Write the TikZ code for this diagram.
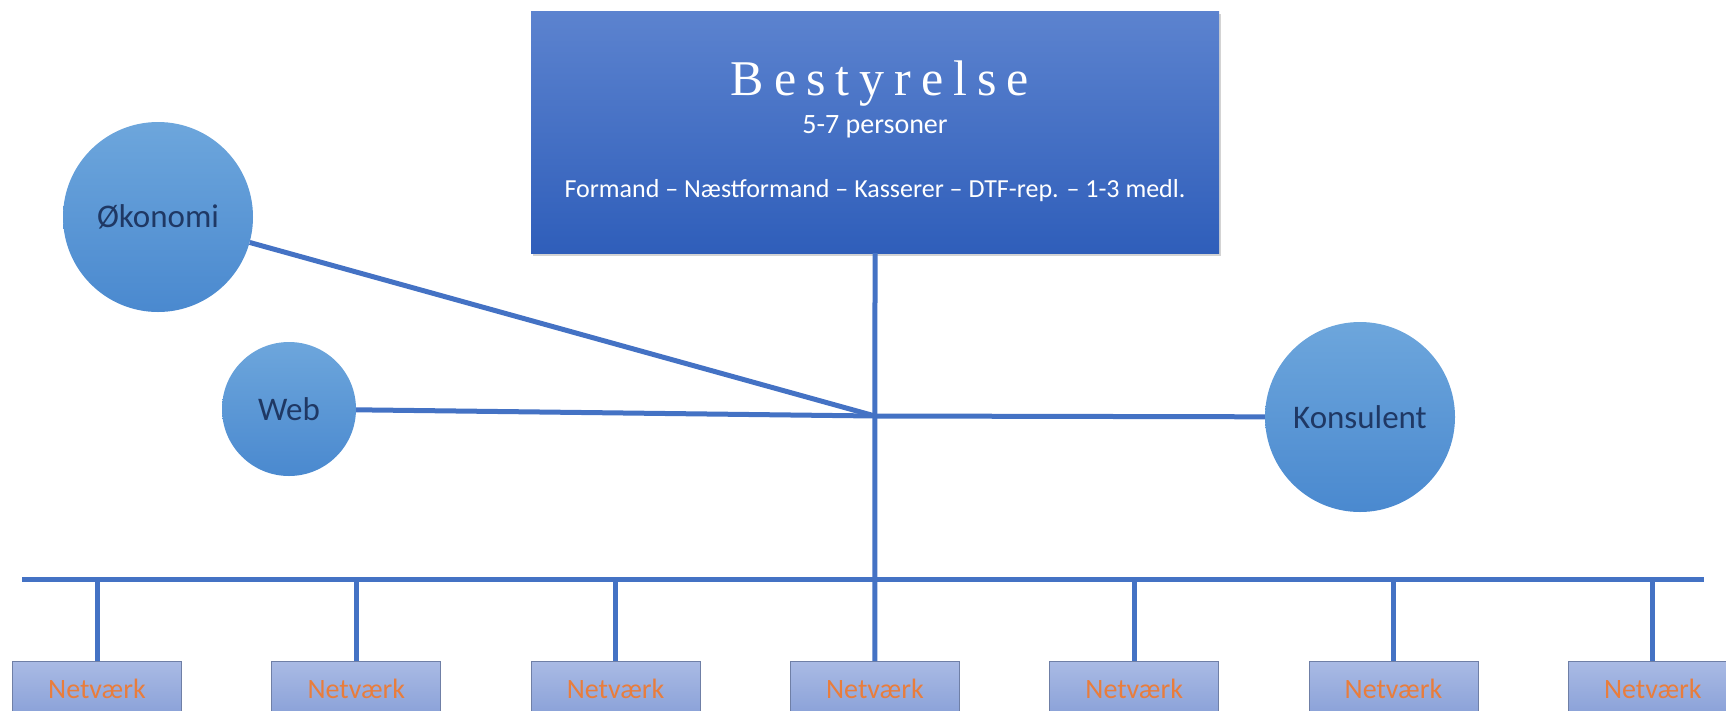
\documentclass[tikz,border=0pt]{standalone}
\usepackage{fontspec}
\setmainfont{Carlito}
\newfontfamily\titlefont[LetterSpace=20]{Liberation Serif}
\usepackage{xcolor}
\usetikzlibrary{shadows}
\definecolor{linecol}{HTML}{4472C4}
\definecolor{boardtop}{HTML}{5C83CF}
\definecolor{boardbot}{HTML}{2F5EBA}
\definecolor{circtop}{HTML}{6DA6DC}
\definecolor{circbot}{HTML}{4A89CF}
\definecolor{netvtop}{HTML}{A9BAE4}
\definecolor{netvbot}{HTML}{8AA1D8}
\definecolor{netvedge}{HTML}{6F7FA6}
\definecolor{netvtext}{HTML}{E97D3C}
\definecolor{circtext}{HTML}{1F3864}
\tikzset{
  link/.style={linecol,line width=5pt},
  unit/.style={circle,top color=circtop,bottom color=circbot,text=circtext,
    font=\fontsize{33}{36}\selectfont,inner sep=0pt},
  netv/.style={rectangle,draw=netvedge,line width=1pt,top color=netvtop,bottom color=netvbot,
    text=netvtext,font=\fontsize{28}{30}\selectfont,minimum width=169,minimum height=54,anchor=north}
}

\begin{document}
\begin{tikzpicture}[x=1pt,y=-1pt]
  \useasboundingbox (0,0) rectangle (1726,710);

  \def\busy{579}
  \def\dx{259.3}
  \coordinate (hub) at (875,416);
  \coordinate (busL) at (22,\busy);
  \coordinate (busR) at (1704,\busy);

  % BOARD
  \node[rectangle,top color=boardtop,bottom color=boardbot,minimum width=688,minimum height=242,
    drop shadow={shadow xshift=2pt,shadow yshift=-3pt,opacity=.35}] (besty) at (875,132) {};
  \node[anchor=base,white,font=\titlefont\fontsize{50}{55}\selectfont] (bestytitle) at (880,95) {Bestyrelse};
  \node[anchor=base,white,font=\fontsize{28}{30}\selectfont] (bestycount) at (875,133) {5-7 personer};
  \node[anchor=base,white,font=\fontsize{26}{28}\selectfont] (bestyroles) at (875,197)
    {Formand – Næstformand – Kasserer – DTF-rep. – 1-3 medl.};

  % CIRCLES
  \node[unit,minimum size=190] (okonomi) at (158,217) {Økonomi};
  \node[unit,minimum size=134] (web) at (289,409) {Web};
  \node[unit,minimum size=190] (konsulent) at (1360,417) {Konsulent};

  % NETWORKS
  \foreach \i in {1,...,7}
    \node[netv] (netv\i) at ({97+(\i-1)*\dx},661) {Netværk};

  % LINES
  \draw[link] (besty.south) -- (netv4.north);
  \draw[link] (okonomi) -- (hub);
  \draw[link] (web) -- (hub);
  \draw[link] (hub) -- (konsulent);
  \draw[link] (busL) -- (busR);
  \foreach \i in {1,2,3,5,6,7}
    \draw[link] (netv\i.north |- busL) -- (netv\i.north);

\end{tikzpicture}
\end{document}
